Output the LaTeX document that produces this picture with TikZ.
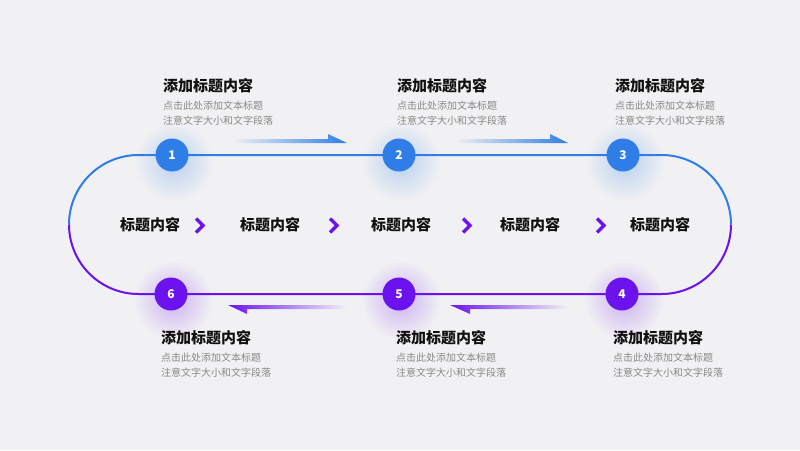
\documentclass[tikz,border=0pt]{standalone}
\usepackage{fontspec}
\setmainfont{Noto Sans CJK SC}
\definecolor{bg}{HTML}{F1F1F3}
\definecolor{blu}{HTML}{2F7DE7}
\definecolor{purp}{HTML}{6C12EE}
\definecolor{ink}{HTML}{111111}
\definecolor{grey}{HTML}{888888}
\begin{document}
\begin{tikzpicture}[x=1pt,y=-1pt,
  stepdot/.style={circle,minimum size=33pt,inner sep=0,text=white,font=\bfseries\fontsize{12}{12}\selectfont},
  title/.style={anchor=west,inner sep=0,text=ink,font=\bfseries\fontsize{15}{15}\selectfont},
  note/.style={anchor=west,inner sep=0,align=left,text=grey,font=\fontsize{10}{15}\selectfont},
  tagtext/.style={inner sep=0,text=ink,font=\bfseries\fontsize{15}{15}\selectfont},
  chev/.style={draw=purp,line width=3.5pt},
  track/.style={line width=2pt,rounded corners=69.5pt}]
\fill[bg] (0,0) rectangle (800,450);
\foreach \x/\y/\c in {172/155/blu,399/155/blu,623/155/blu,622/293/purp,399/293/purp,171/293/purp}
  \shade[inner color=\c!28!bg,outer color=bg] (\x+2,\y+7) circle (40);
\draw[track,blu] (69,224.5) -- (69,155) -- (731,155) -- (731,224.5);
\draw[track,purp] (69,224.5) -- (69,294) -- (731,294) -- (731,224.5);
\shade[left color=bg,right color=blu] (232,139) -- (328,139) -- (328,134) -- (347,143) -- (232,143) -- cycle;
\shade[left color=bg,right color=blu] (455,139) -- (550,139) -- (550,134) -- (568,143) -- (455,143) -- cycle;
\shade[left color=purp,right color=bg] (228,305) -- (347,305) -- (347,309) -- (247,309) -- (247,314) -- cycle;
\shade[left color=purp,right color=bg] (450,305) -- (568,305) -- (568,309) -- (470,309) -- (470,314) -- cycle;
\node[stepdot,fill=blu] (n1) at (172,155) {1};
\node[stepdot,fill=blu] (n2) at (399,155) {2};
\node[stepdot,fill=blu] (n3) at (623,155) {3};
\node[stepdot,fill=purp] (n4) at (622,294) {4};
\node[stepdot,fill=purp] (n5) at (399,294) {5};
\node[stepdot,fill=purp] (n6) at (171,294) {6};
\foreach \x [count=\i] in {150,270,401,530,660}
  \node[tagtext] (m\i) at (\x,225) {标题内容};
\foreach \x in {200,334,467,601}
  \draw[chev] (\x-4,218.5) -- (\x+3,225.5) -- (\x-4,232.5);
\foreach \x/\y/\i in {163/86/1,397/86/2,615/86/3,613/338/4,396/338/5,161/338/6} {
  \node[title] (t\i) at (\x,\y) {添加标题内容};
  \node[note] (s\i) at (\x,\y+27) {点击此处添加文本标题\\注意文字大小和文字段落};
}
\end{tikzpicture}
\end{document}
